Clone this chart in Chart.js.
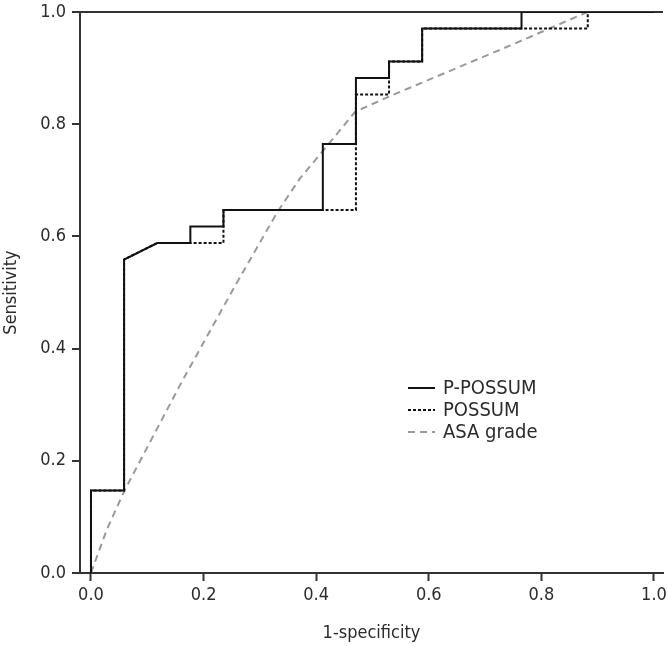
<!DOCTYPE html>
<html>
<head>
<meta charset="utf-8">
<script src="https://cdn.jsdelivr.net/npm/chart.js@4.4.1/dist/chart.umd.min.js"></script>
<style>
html,body{margin:0;padding:0;background:#fff;}
#wrap{width:667px;height:646px;position:relative;}
</style>
</head>
<body>
<div id="wrap"><canvas id="c"></canvas></div>
<script>
// ---- data ----
const seriesLabels = ["P-POSSUM", "POSSUM", "ASA grade"];

const pPossumX = [0, 0, 0.0588, 0.0588, 0.1176, 0.1765, 0.1765, 0.2353, 0.2353, 0.4118, 0.4118, 0.4706, 0.4706, 0.5294, 0.5294, 0.5882, 0.5882, 0.7647, 0.7647, 1.0];
const pPossumY = [0, 0.1471, 0.1471, 0.5588, 0.5882, 0.5882, 0.6176, 0.6176, 0.6471, 0.6471, 0.7647, 0.7647, 0.8824, 0.8824, 0.9118, 0.9118, 0.9706, 0.9706, 1.0, 1.0];

const possumX = [0, 0, 0.0588, 0.0588, 0.1176, 0.2353, 0.2353, 0.4706, 0.4706, 0.5294, 0.5294, 0.5882, 0.5882, 0.8824, 0.8824, 1.0];
const possumY = [0, 0.1471, 0.1471, 0.5588, 0.5882, 0.5882, 0.6471, 0.6471, 0.8529, 0.8529, 0.9118, 0.9118, 0.9706, 0.9706, 1.0, 1.0];

const asaX = [0, 0.028, 0.06, 0.163, 0.256, 0.332, 0.371, 0.428, 0.469, 0.531, 0.744, 0.882, 1.0];
const asaY = [0, 0.077, 0.148, 0.344, 0.512, 0.645, 0.703, 0.772, 0.822, 0.850, 0.940, 1.0, 1.0];

const xTicks = [0, 0.2, 0.4, 0.6, 0.8, 1.0];
const yTicks = [0, 0.2, 0.4, 0.6, 0.8, 1.0];
const xTitle = "1-specificity";
const yTitle = "Sensitivity";

// ---- build ----
const pts = (xs, ys) => xs.map((x, i) => ({x: x, y: ys[i]}));
const FONT = '"Liberation Sans Narrow", "DejaVu Sans Condensed", "Roboto", sans-serif';
const INK = '#333333';
const TXT = '#2b2b2b';

const legendPlugin = {
  id: 'innerLegend',
  afterDatasetsDraw(chart) {
    const ctx = chart.ctx;
    const x0 = 408, x1 = 435, tx = 443;
    const rows = [388, 410, 432];
    chart.data.datasets.forEach((ds, i) => {
      const y = rows[i];
      ctx.save();
      ctx.strokeStyle = ds.borderColor;
      ctx.lineWidth = ds.borderWidth;
      ctx.setLineDash(ds.borderDash || []);
      ctx.beginPath();
      ctx.moveTo(x0, y);
      ctx.lineTo(x1, y);
      ctx.stroke();
      ctx.setLineDash([]);
      ctx.fillStyle = TXT;
      ctx.font = '20px ' + FONT;
      ctx.textBaseline = 'middle';
      ctx.textAlign = 'left';
      ctx.fillText(ds.label, tx, y + 1);
      ctx.restore();
    });
  }
};

new Chart(document.getElementById('c'), {
  type: 'line',
  data: {
    datasets: [
      {label: seriesLabels[0], data: pts(pPossumX, pPossumY), borderColor: '#111111', borderWidth: 2, pointRadius: 0, tension: 0, fill: false},
      {label: seriesLabels[1], data: pts(possumX, possumY), borderColor: '#111111', borderWidth: 2, borderDash: [3, 2], pointRadius: 0, tension: 0, fill: false},
      {label: seriesLabels[2], data: pts(asaX, asaY), borderColor: '#9a9a9a', borderWidth: 2, borderDash: [7, 5], pointRadius: 0, tension: 0, fill: false}
    ]
  },
  options: {
    responsive: true,
    maintainAspectRatio: false,
    animation: false,
    layout: {padding: {left: 0, top: 12, right: 4, bottom: 0}},
    plugins: {legend: {display: false}, tooltip: {enabled: false}},
    scales: {
      x: {
        type: 'linear',
        min: -0.0195,
        max: 1.016,
        afterBuildTicks: s => { s.ticks = xTicks.map(v => ({value: v})); },
        afterFit: s => { s.height = 73; s.paddingLeft = 0; s.paddingRight = 0; },
        border: {display: true, color: INK, width: 2},
        grid: {drawOnChartArea: false, drawTicks: true, tickLength: 8, tickColor: INK, tickWidth: 2},
        ticks: {color: TXT, font: {family: FONT, size: 18}, padding: 4, maxRotation: 0,
                callback: v => Number(v).toFixed(1)},
        title: {display: true, text: xTitle, color: TXT, font: {family: FONT, size: 18}, padding: {top: 0, bottom: 2}}
      },
      y: {
        type: 'linear',
        min: 0,
        max: 1,
        afterBuildTicks: s => { s.ticks = yTicks.map(v => ({value: v})); },
        afterFit: s => { s.width = 80; s.paddingTop = 0; s.paddingBottom = 0; },
        border: {display: true, color: INK, width: 2},
        grid: {drawOnChartArea: true, drawTicks: true, tickLength: 8, tickColor: INK, tickWidth: 2,
               lineWidth: 2,
               color: c => (c.tick && c.tick.value === 1) ? INK : 'rgba(0,0,0,0)'},
        ticks: {color: TXT, font: {family: FONT, size: 18}, padding: 6,
                callback: v => Number(v).toFixed(1)},
        title: {display: true, text: yTitle, color: TXT, font: {family: FONT, size: 18}, padding: {top: 1, bottom: 0}}
      }
    }
  },
  plugins: [legendPlugin]
});
</script>
</body>
</html>
